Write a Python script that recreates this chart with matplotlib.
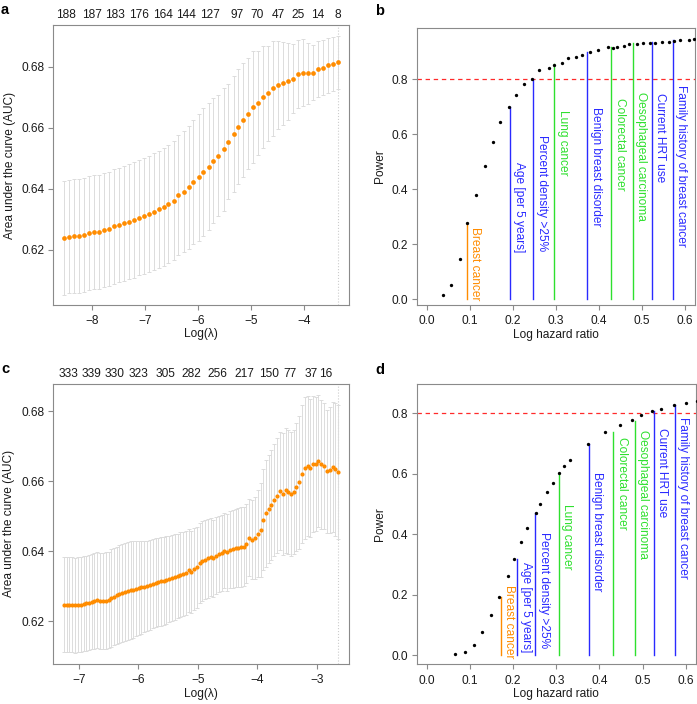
import matplotlib
matplotlib.use('Agg')
import matplotlib.pyplot as plt

plt.rcParams['font.family'] = ['Liberation Sans', 'DejaVu Sans']

# ---------------- Panel a (cross-validated AUC) ----------------
a_loglam = [-8.53, -8.44, -8.34, -8.25, -8.15, -8.06, -7.97, -7.87, -7.78, -7.68,
            -7.59, -7.50, -7.40, -7.31, -7.21, -7.12, -7.03, -6.93, -6.84, -6.74,
            -6.65, -6.56, -6.46, -6.37, -6.27, -6.18, -6.09, -5.99, -5.90, -5.80,
            -5.71, -5.62, -5.52, -5.43, -5.33, -5.24, -5.15, -5.05, -4.96, -4.86,
            -4.77, -4.68, -4.58, -4.49, -4.39, -4.30, -4.21, -4.11, -4.02, -3.92,
            -3.83, -3.74, -3.64, -3.55, -3.45, -3.36]
a_auc = [0.6238, 0.6243, 0.6246, 0.6246, 0.6249, 0.6254, 0.6257, 0.6259, 0.6264, 0.6269,
         0.6276, 0.6281, 0.6287, 0.6291, 0.6298, 0.6305, 0.6311, 0.6317, 0.6325, 0.6333,
         0.6340, 0.6351, 0.6361, 0.6378, 0.6390, 0.6405, 0.6422, 0.6438,
         0.6455, 0.6473, 0.6492, 0.6509, 0.6529, 0.6555, 0.6580, 0.6604, 0.6625, 0.6647,
         0.6670, 0.6682, 0.6701, 0.6713, 0.6730, 0.6740, 0.6746, 0.6753, 0.6762, 0.6776,
         0.6781, 0.6779, 0.6781, 0.6792, 0.6798, 0.6805, 0.6809, 0.6816]
a_sd = [0.0187, 0.0187, 0.0187, 0.0187, 0.0187, 0.0187, 0.0187, 0.0187, 0.0187, 0.0187,
        0.0188, 0.0188, 0.0189, 0.0189, 0.0190, 0.0190, 0.0190, 0.0191, 0.0191, 0.0192,
        0.0193, 0.0194, 0.0195, 0.0197, 0.0199, 0.0202, 0.0205, 0.0209,
        0.0210, 0.0210, 0.0206, 0.0199, 0.0201, 0.0190, 0.0190, 0.0190, 0.0187, 0.0183,
        0.0184, 0.0172, 0.0167, 0.0157, 0.0156, 0.0145, 0.0136, 0.0126, 0.0114, 0.0112,
        0.0110, 0.0099, 0.0091, 0.0092, 0.0091, 0.0090, 0.0088, 0.0087]
a_top_pos = [-8.50, -8.00, -7.57, -7.12, -6.67, -6.22, -5.77, -5.27, -4.89, -4.49, -4.11, -3.74, -3.36]
a_top_labels = ['188', '187', '183', '176', '164', '144', '127', '97', '70', '47', '25', '14', '8']
a_best = -3.36

# ---------------- Panel c (cross-validated AUC) ----------------
c_loglam = [-7.25, -7.20, -7.16, -7.11, -7.06, -7.02, -6.97, -6.92, -6.88, -6.83,
            -6.78, -6.74, -6.69, -6.64, -6.60, -6.55, -6.50, -6.46, -6.41, -6.36,
            -6.32, -6.27, -6.23, -6.18, -6.13, -6.09, -6.04, -5.99, -5.95, -5.90,
            -5.85, -5.81, -5.76, -5.71, -5.67, -5.62, -5.57, -5.53, -5.48, -5.43,
            -5.39, -5.34, -5.29, -5.25, -5.20, -5.15, -5.11, -5.06, -5.01, -4.97,
            -4.92, -4.87, -4.83, -4.78, -4.74, -4.69, -4.64, -4.60, -4.55, -4.50,
            -4.46, -4.41, -4.36, -4.32, -4.27, -4.22, -4.18, -4.13, -4.08, -4.04,
            -3.99, -3.94, -3.90, -3.85, -3.80, -3.76, -3.71, -3.66, -3.62, -3.57,
            -3.52, -3.48, -3.43, -3.38, -3.34, -3.29, -3.25, -3.20, -3.15, -3.11,
            -3.06, -3.01, -2.97, -2.92, -2.87, -2.83, -2.78, -2.73, -2.69, -2.64]
c_auc = [0.6247, 0.6247, 0.6247, 0.6247, 0.6246, 0.6247, 0.6248, 0.6250, 0.6252, 0.6253,
         0.6256, 0.6258, 0.6262, 0.6259, 0.6258, 0.6259, 0.6261, 0.6267, 0.6271, 0.6274,
         0.6277, 0.6280, 0.6283, 0.6286, 0.6289, 0.6291, 0.6293, 0.6295, 0.6297, 0.6299,
         0.6302, 0.6304, 0.6307, 0.6310, 0.6312, 0.6314, 0.6316, 0.6318, 0.6321, 0.6324,
         0.6327, 0.6330, 0.6333, 0.6335, 0.6338, 0.6346, 0.6341, 0.6349, 0.6355, 0.6366,
         0.6372, 0.6376, 0.6380, 0.6384, 0.6380, 0.6388, 0.6392, 0.6396, 0.6402, 0.6397,
         0.6404, 0.6407, 0.6409, 0.6410, 0.6412, 0.6413, 0.6422, 0.6439, 0.6433, 0.6438,
         0.6451, 0.6461, 0.6491, 0.6509, 0.6521, 0.6532, 0.6547, 0.6559, 0.6572, 0.6564,
         0.6574, 0.6570, 0.6564, 0.6570, 0.6583, 0.6598, 0.6621, 0.6637, 0.6644, 0.6637,
         0.6649, 0.6649, 0.6659, 0.6649, 0.6644, 0.6629, 0.6632, 0.6641, 0.6634, 0.6626]
c_sd = [0.0136, 0.0136, 0.0136, 0.0136, 0.0136, 0.0136, 0.0136, 0.0136, 0.0136, 0.0136,
        0.0136, 0.0136, 0.0137, 0.0137, 0.0138, 0.0138, 0.0138, 0.0139, 0.0139, 0.0139,
        0.0140, 0.0140, 0.0140, 0.0140, 0.0140, 0.0138, 0.0136, 0.0134, 0.0132, 0.0130,
        0.0129, 0.0128, 0.0127, 0.0127, 0.0126, 0.0126, 0.0126, 0.0125, 0.0124, 0.0123,
        0.0122, 0.0121, 0.0121, 0.0120, 0.0119, 0.0119, 0.0118, 0.0117, 0.0116, 0.0115,
        0.0114, 0.0113, 0.0112, 0.0111, 0.0110, 0.0110, 0.0109, 0.0109, 0.0108, 0.0109,
        0.0110, 0.0111, 0.0112, 0.0113, 0.0114, 0.0113, 0.0112, 0.0110, 0.0113, 0.0118,
        0.0124, 0.0133, 0.0143, 0.0153, 0.0155, 0.0157, 0.0161, 0.0165, 0.0169, 0.0174,
        0.0178, 0.0178, 0.0177, 0.0177, 0.0183, 0.0190, 0.0197, 0.0203, 0.0200, 0.0197,
        0.0195, 0.0191, 0.0188, 0.0184, 0.0180, 0.0176, 0.0180, 0.0186, 0.0190, 0.0192]
c_top_pos = [-7.18, -6.79, -6.40, -5.99, -5.55, -5.10, -4.67, -4.22, -3.80, -3.45, -3.10, -2.85]
c_top_labels = ['333', '339', '330', '323', '305', '282', '256', '217', '150', '77', '37', '16']
c_best = -2.64

# ---------------- Power panels ----------------
factors = ['Breast cancer', 'Age [per 5 years]', 'Percent density >25%', 'Lung cancer',
           'Benign breast disorder', 'Colorectal cancer', 'Oesophageal carcinoma',
           'Current HRT use', 'Family history of breast cancer']
factor_colors = ['#ff8c00', '#2a2aff', '#2a2aff', '#2ee02e', '#2a2aff',
                 '#2ee02e', '#2ee02e', '#2a2aff', '#2a2aff']

b_x = [0.037, 0.057, 0.076, 0.093, 0.114, 0.135, 0.154, 0.171, 0.192, 0.208, 0.227, 0.245,
       0.261, 0.283, 0.296, 0.315, 0.329, 0.347, 0.362, 0.380, 0.399, 0.421, 0.434, 0.442,
       0.458, 0.470, 0.489, 0.504, 0.520, 0.532, 0.547, 0.563, 0.576, 0.590, 0.609, 0.621]
b_power = [0.016, 0.050, 0.145, 0.279, 0.378, 0.486, 0.573, 0.644, 0.700, 0.743, 0.784, 0.800,
           0.834, 0.841, 0.852, 0.859, 0.876, 0.882, 0.888, 0.898, 0.906, 0.916, 0.913, 0.917,
           0.921, 0.927, 0.928, 0.931, 0.934, 0.933, 0.935, 0.937, 0.939, 0.942, 0.944, 0.947]
b_factor_x = [0.0934, 0.1938, 0.2475, 0.2965, 0.3736, 0.4289, 0.4795, 0.5230, 0.5720]
b_factor_power = [0.279, 0.700, 0.800, 0.855, 0.900, 0.916, 0.931, 0.937, 0.943]
b_label_top = [0.264, 0.500, 0.597, 0.688, 0.700, 0.731, 0.755, 0.749, 0.779]

d_x = [0.065, 0.088, 0.109, 0.127, 0.149, 0.167, 0.187, 0.201, 0.218, 0.233, 0.252, 0.261,
       0.279, 0.293, 0.305, 0.318, 0.332, 0.374, 0.414, 0.447, 0.476, 0.497, 0.521, 0.543,
       0.574, 0.601, 0.626]
d_power = [0.005, 0.012, 0.035, 0.077, 0.134, 0.192, 0.262, 0.317, 0.374, 0.420, 0.469, 0.500,
           0.540, 0.570, 0.603, 0.624, 0.645, 0.698, 0.739, 0.762, 0.777, 0.795, 0.808, 0.812,
           0.827, 0.834, 0.841]
d_factor_x = [0.1710, 0.2096, 0.2508, 0.3050, 0.3758, 0.4324, 0.4820, 0.5262, 0.5750]
d_factor_power = [0.192, 0.317, 0.469, 0.603, 0.698, 0.737, 0.775, 0.808, 0.827]
d_label_top = [0.231, 0.308, 0.406, 0.500, 0.605, 0.720, 0.743, 0.750, 0.786]

power_threshold = 0.8

# ---------------- Figure ----------------
W, H = 697, 704
fig = plt.figure(figsize=(W / 100, H / 100), dpi=100)

def axes_px(l, t, r, b):
    return fig.add_axes([l / W, 1 - b / H, (r - l) / W, (b - t) / H])

FS = 8.6
SPINE = '#8a8a8a'

def style(ax):
    for s in ax.spines.values():
        s.set_color(SPINE)
        s.set_linewidth(0.8)
    ax.tick_params(direction='out', length=3.5, width=0.8, color=SPINE,
                   labelsize=FS, labelcolor='#1a1a1a', pad=2.5)
    ax.tick_params(axis='x', pad=4)

def cv_panel(ax, x, m, sd, top_pos, top_labels, best, xlim, ylim, xticks, yticks, ms):
    ax.errorbar(x, m, yerr=sd, fmt='none', ecolor='#dcdcdc', elinewidth=0.7,
                capsize=1.6, capthick=0.7, zorder=1)
    ax.plot(x, m, 'o', color='#ff8c00', ms=ms, mec='none', zorder=3)
    ax.axvline(best, color='#cccccc', ls=':', lw=0.8, zorder=0)
    ax.set_xlim(*xlim)
    ax.set_ylim(*ylim)
    ax.set_xticks(xticks)
    ax.set_yticks(yticks)
    ax.set_yticklabels(['%.2f' % v for v in yticks])
    style(ax)
    top = ax.secondary_xaxis('top')
    top.set_xticks(top_pos)
    top.set_xticklabels(top_labels)
    top.tick_params(length=0, pad=3, labelsize=FS, labelcolor='#1a1a1a')
    top.spines['top'].set_visible(False)
    ax.set_xlabel('Log(λ)', fontsize=FS, color='#1a1a1a')
    ax.set_ylabel('Area under the curve (AUC)', fontsize=FS, color='#1a1a1a')

def power_panel(ax, x, p, fx, fp, tops, ylim):
    ax.axhline(power_threshold, color='#ff2a2a', ls=(0, (3.5, 3)), lw=0.9, zorder=1)
    for name, col, xv, pv, tp in zip(factors, factor_colors, fx, fp, tops):
        ax.plot([xv, xv], [0, pv], color=col, lw=1.0, zorder=2)
        ax.text(xv + 0.0195, tp, name, rotation=270, ha='center', va='top',
                color=col, fontsize=FS, rotation_mode='default')
    ax.plot(x, p, 'o', color='black', ms=2.4, mec='none', zorder=3)
    ax.set_xlim(-0.024, 0.624)
    ax.set_ylim(*ylim)
    ax.set_xticks([0.0, 0.1, 0.2, 0.3, 0.4, 0.5, 0.6])
    ax.set_xticklabels(['0.0', '0.1', '0.2', '0.3', '0.4', '0.5', '0.6'])
    ax.set_yticks([0.0, 0.2, 0.4, 0.6, 0.8])
    ax.set_yticklabels(['0.0', '0.2', '0.4', '0.6', '0.8'])
    style(ax)
    ax.set_xlabel('Log hazard ratio', fontsize=FS, color='#1a1a1a')
    ax.set_ylabel('Power', fontsize=FS, color='#1a1a1a')

# Panel a
ax_a = axes_px(53, 25, 349, 305)
cv_panel(ax_a, a_loglam, a_auc, a_sd, a_top_pos, a_top_labels, a_best,
         (-8.74, -3.15), (0.6018, 0.6938), [-8, -7, -6, -5, -4], [0.62, 0.64, 0.66, 0.68], 3.4)
ax_a.yaxis.set_label_coords(-0.145, 0.5)
ax_a.xaxis.set_label_coords(0.5, -0.104)
ax_a.xaxis.label.set_va('center')
ax_a.yaxis.label.set_va('center')

# Panel b
ax_b = axes_px(416.7, 27.7, 695, 305)
power_panel(ax_b, b_x, b_power, b_factor_x, b_factor_power, b_label_top, (-0.021, 0.988))
ax_b.yaxis.set_label_coords(-0.132, 0.5)
ax_b.xaxis.set_label_coords(0.5, -0.108)
ax_b.xaxis.label.set_va('center')
ax_b.yaxis.label.set_va('center')

# Panel c
ax_c = axes_px(53, 383.7, 349, 663.7)
cv_panel(ax_c, c_loglam, c_auc, c_sd, c_top_pos, c_top_labels, c_best,
         (-7.434, -2.456), (0.6079, 0.6879), [-7, -6, -5, -4, -3], [0.62, 0.64, 0.66, 0.68], 3.0)
ax_c.yaxis.set_label_coords(-0.150, 0.5)
ax_c.xaxis.set_label_coords(0.5, -0.107)
ax_c.xaxis.label.set_va('center')
ax_c.yaxis.label.set_va('center')

# Panel d
ax_d = axes_px(416.7, 383.7, 696, 664.3)
power_panel(ax_d, d_x, d_power, d_factor_x, d_factor_power, d_label_top, (-0.030, 0.897))
ax_d.yaxis.set_label_coords(-0.132, 0.5)
ax_d.xaxis.set_label_coords(0.5, -0.105)
ax_d.xaxis.label.set_va('center')
ax_d.yaxis.label.set_va('center')

# Panel letters
for lab, px, py in [('a', 1, 14), ('b', 375, 15), ('c', 1, 372.7), ('d', 375, 373.7)]:
    fig.text(px / W, 1 - py / H, lab, fontsize=10.5, fontweight='bold',
             ha='left', va='baseline', color='black')

fig.savefig('out.png', dpi=100)
